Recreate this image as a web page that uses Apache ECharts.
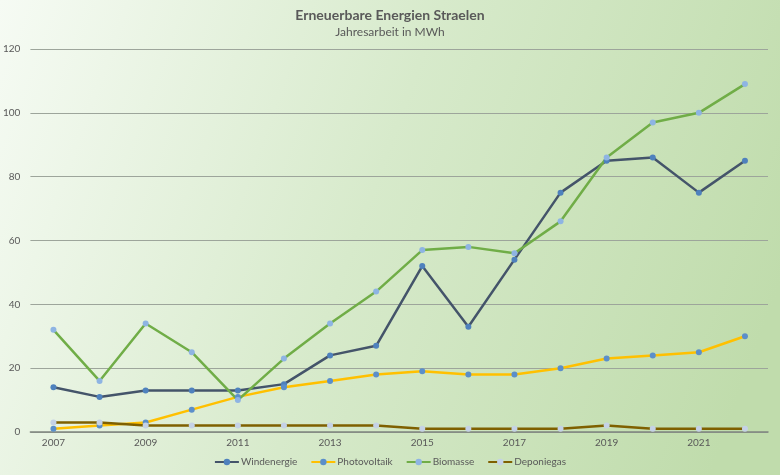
<!DOCTYPE html>
<html>
<head>
<meta charset="utf-8">
<script src="https://cdn.jsdelivr.net/npm/echarts@6/dist/echarts.min.js"></script>
<style>
    html, body { margin: 0; padding: 0; }
    #chart { width: 780px; height: 475px; }
</style>
</head>
<body>
<div id="chart"></div>
<script>
const years = ['2007', '2008', '2009', '2010', '2011', '2012', '2013', '2014', '2015', '2016', '2017', '2018', '2019', '2020', '2021', '2022']
const windenergie = [14, 11, 13, 13, 13, 15, 24, 27, 52, 33, 54, 75, 85, 86, 75, 85]
const photovoltaik = [1, 2, 3, 7, 11, 14, 16, 18, 19, 18, 18, 20, 23, 24, 25, 30]
const biomasse = [32, 16, 34, 25, 10, 23, 34, 44, 57, 58, 56, 66, 86, 97, 100, 109]
const deponiegas = [3, 3, 2, 2, 2, 2, 2, 2, 1, 1, 1, 1, 2, 1, 1, 1]

const font = 'Lato, "Open Sans", sans-serif'
const line = (name, data, lineColor, markColor) => ({
    name: name,
    type: 'line',
    data: data,
    symbol: 'circle',
    symbolSize: 6,
    lineStyle: { color: lineColor, width: 2.5 },
    itemStyle: { color: markColor },
    emphasis: { disabled: true }
})

var myChart = echarts.init(document.getElementById('chart'))
myChart.setOption({
    animation: false,
    backgroundColor: {
        type: 'linear', x: 0, y: 0, x2: 1, y2: 0.6,
        colorStops: [
            { offset: 0, color: '#f6fbf4' },
            { offset: 0.5, color: '#d7eacb' },
            { offset: 1, color: '#c0dcac' }
        ]
    },
    textStyle: { fontFamily: font, color: '#595959' },
    title: {
        text: 'Erneuerbare Energien Straelen',
        subtext: 'Jahresarbeit in MWh',
        left: 'center',
        top: 3,
        itemGap: 4,
        textStyle: { fontFamily: font, fontSize: 14, fontWeight: 'bold', color: '#595959' },
        subtextStyle: { fontFamily: font, fontSize: 12, color: '#595959' }
    },
    legend: {
        bottom: 3,
        left: 'center',
        itemWidth: 24,
        itemHeight: 8,
        itemGap: 13,
        textStyle: { fontFamily: font, fontSize: 10, color: '#595959', padding: [0, 0, 0, -3] },
        data: ['Windenergie', 'Photovoltaik', 'Biomasse', 'Deponiegas']
    },
    grid: { left: 30, right: 12, top: 49, bottom: 43 },
    xAxis: {
        type: 'category',
        data: years,
        axisTick: { show: false },
        axisLine: { lineStyle: { color: '#7f857f', width: 1.5 } },
        axisLabel: { interval: 1, fontSize: 10, color: '#595959', margin: 6 }
    },
    yAxis: {
        type: 'value',
        min: 0,
        max: 120,
        interval: 20,
        axisLabel: { fontSize: 10, color: '#595959', margin: 10 },
        splitLine: { lineStyle: { color: '#9da59b', width: 1.2 } }
    },
    series: [
        line('Windenergie', windenergie, '#44546a', '#4e81bd'),
        line('Photovoltaik', photovoltaik, '#ffc000', '#5b8fca'),
        line('Biomasse', biomasse, '#70ad47', '#8eb4e3'),
        line('Deponiegas', deponiegas, '#7f6000', '#c5d2e6')
    ]
})
</script>
</body>
</html>
